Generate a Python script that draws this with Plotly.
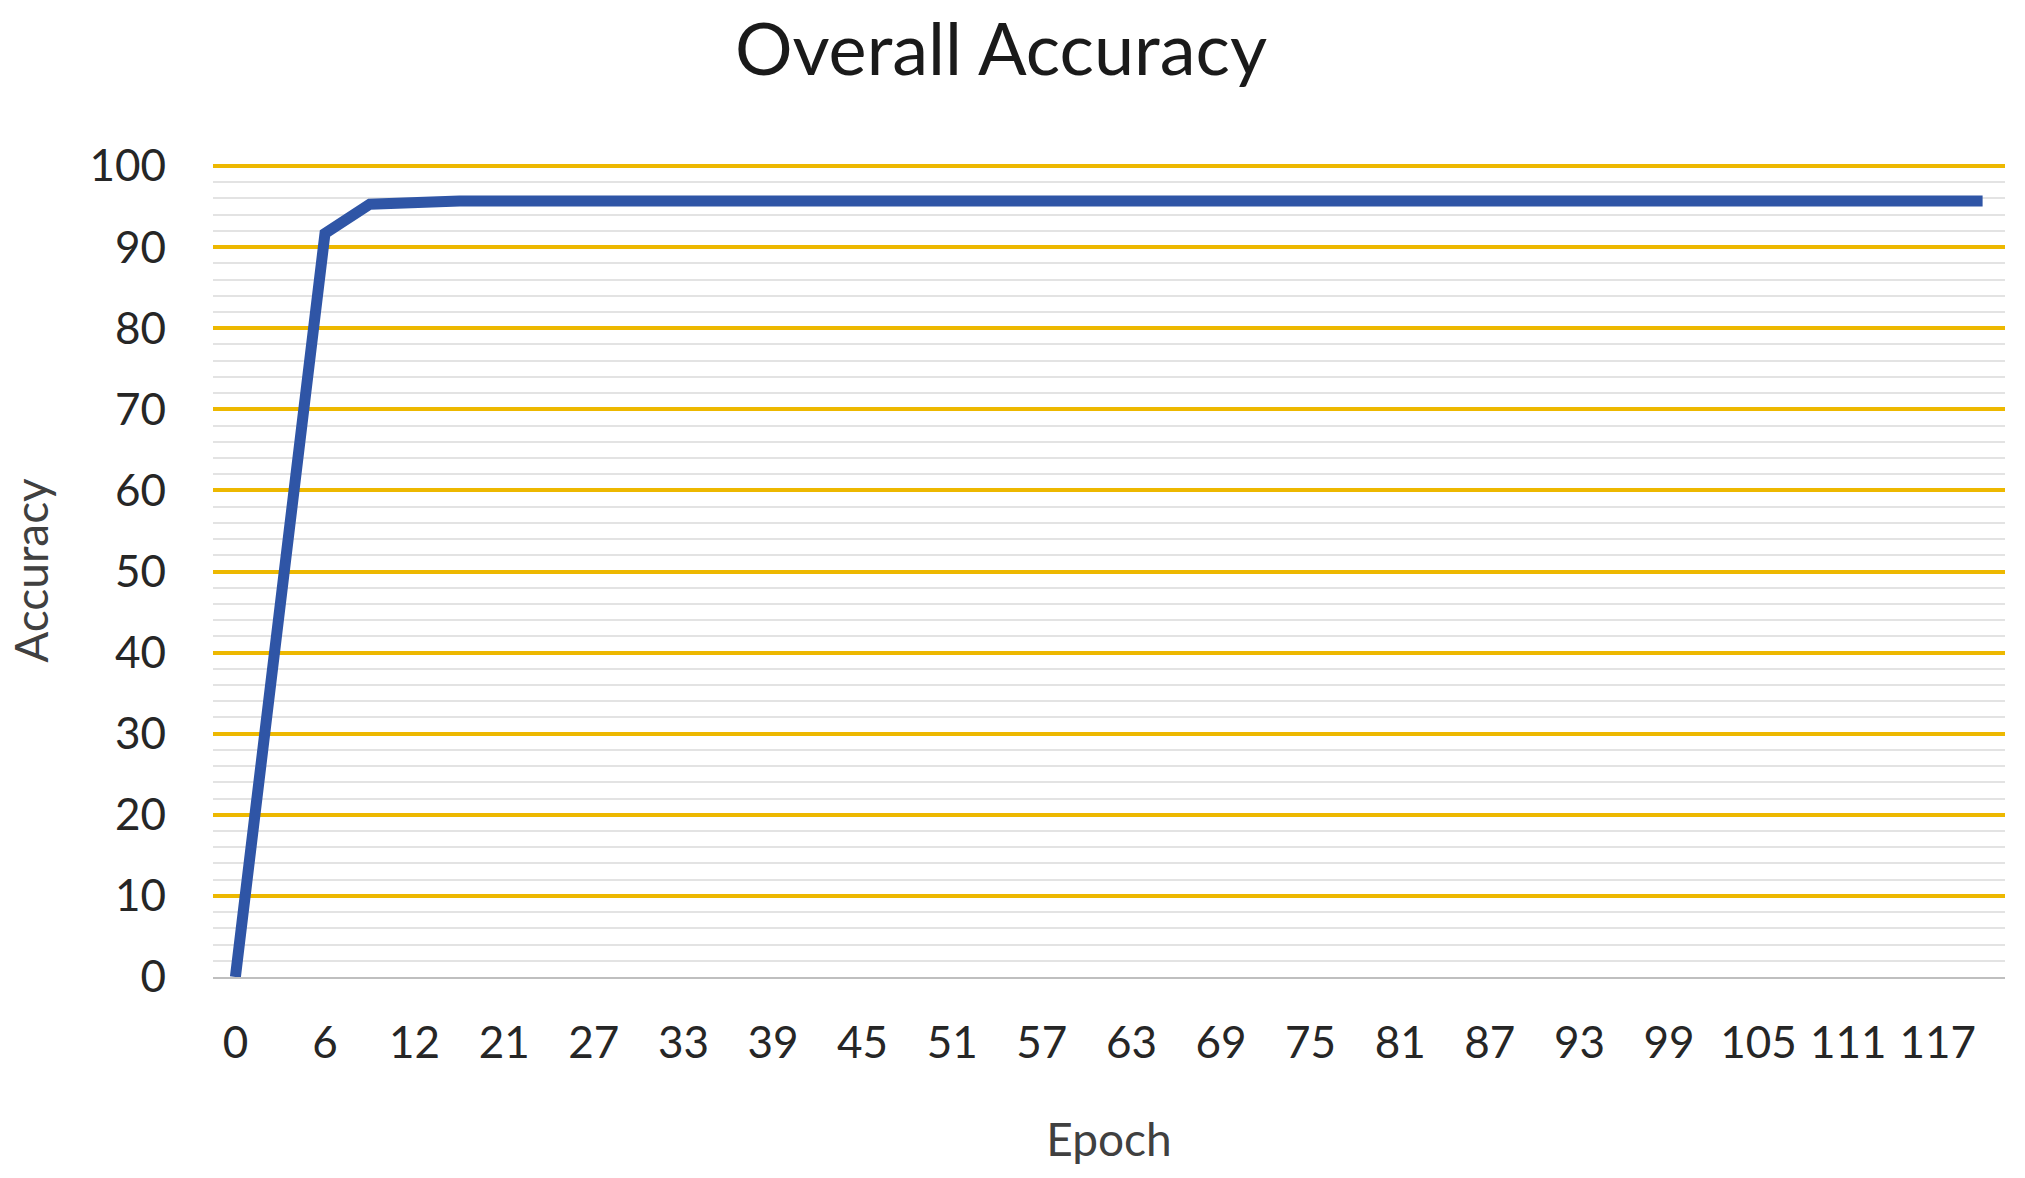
import plotly.graph_objects as go

# Epochs on the category axis (every other one is labelled)
epochs = [0, 3, 6, 9, 12, 15, 21, 24, 27, 30, 33, 36, 39, 42, 45, 48, 51, 54, 57, 60,
          63, 66, 69, 72, 75, 78, 81, 84, 87, 90, 93, 96, 99, 102, 105, 108, 111, 114, 117, 120]
accuracy = [0, 46, 91.7, 95.3, 95.6, 95.7, 95.7, 95.7, 95.7, 95.7, 95.7, 95.7, 95.7, 95.7,
            95.7, 95.7, 95.7, 95.7, 95.7, 95.7, 95.7, 95.7, 95.7, 95.7, 95.7, 95.7, 95.7,
            95.7, 95.7, 95.7, 95.7, 95.7, 95.7, 95.7, 95.7, 95.7, 95.7, 95.7, 95.7, 95.7]
x_labels = [str(e) for e in epochs]
tick_labels = x_labels[::2]

FONT = "Lato, 'Open Sans', sans-serif"
W, H = 2025, 1178

fig = go.Figure()
fig.add_trace(go.Scatter(x=x_labels, y=accuracy, mode="lines",
                         line=dict(color="#2F55A6", width=11),
                         cliponaxis=False, showlegend=False))

fig.update_layout(
    width=W, height=H,
    margin=dict(l=213, r=20, t=164, b=201),
    paper_bgcolor="white", plot_bgcolor="white",
    font=dict(family=FONT, size=46, color="#262626"),
    title=dict(text="Overall Accuracy", x=1001 / W, xanchor="center",
               y=1 - 50 / H, yref="container", yanchor="middle",
               font=dict(family=FONT, size=72, color="#1a1a1a")),
)

fig.update_xaxes(
    type="category", categoryorder="array", categoryarray=x_labels,
    range=[-0.5, len(x_labels) - 0.5],
    tickvals=tick_labels, ticktext=tick_labels,
    showgrid=False, zeroline=False,
    showline=True, linecolor="#BFBFBF", linewidth=2,
    ticks="", ticklabelstandoff=26,
    tickfont=dict(size=44, color="#262626"),
    title=dict(text="Epoch", standoff=58, font=dict(size=46, color="#404040")),
)

fig.update_yaxes(
    range=[0, 100.25], dtick=10, showline=False, zeroline=False,
    gridcolor="#EDB800", gridwidth=3.5,
    minor=dict(dtick=2, showgrid=True, gridcolor="#E3E3E3", gridwidth=1.5),
    ticks="", ticklabelstandoff=46,
    tickfont=dict(size=44, color="#262626"),
    title=dict(text="Accuracy", standoff=26, font=dict(size=46, color="#404040")),
)

# drop the default page margin so the figure fills the window exactly
fig.write_html("out.html", config={"displayModeBar": False},
               post_script="document.body.style.margin='0';")
